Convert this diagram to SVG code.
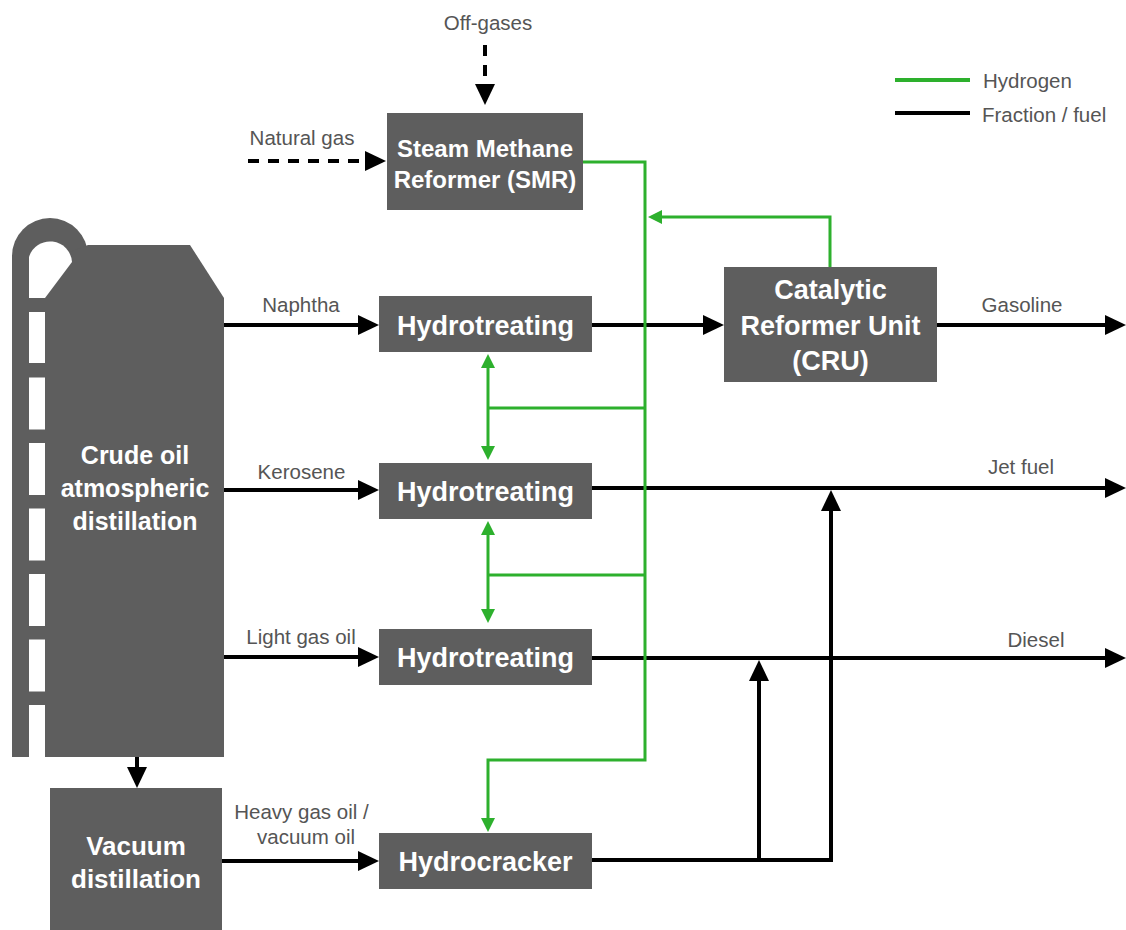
<svg xmlns="http://www.w3.org/2000/svg" width="1126" height="930" viewBox="0 0 1126 930">
<style>
.box{fill:#5e5e5e}
.bt{font-family:"Liberation Sans",Arial,Helvetica,sans-serif;font-weight:bold;fill:#fff;text-anchor:middle}
.lb{font-family:"Liberation Sans",Arial,Helvetica,sans-serif;font-size:20.5px;fill:#555;text-anchor:middle}
.lg{font-family:"Liberation Sans",Arial,Helvetica,sans-serif;font-size:20.5px;fill:#555}
.k{fill:none;stroke:#000;stroke-width:4}
.g{fill:none;stroke:#2db02d;stroke-width:3}
.dash{stroke-dasharray:11 9}
.ka{marker-end:url(#ak)}
.ga{marker-end:url(#ag)}
.gd{marker-start:url(#ag);marker-end:url(#ag)}
</style>
<defs>
<marker id="ak" markerUnits="userSpaceOnUse" markerWidth="21" markerHeight="20" refX="11" refY="10" orient="auto-start-reverse" viewBox="0 0 21 20"><path d="M0,0 L21,10 L0,20 Z" fill="#000"/></marker>
<marker id="ag" markerUnits="userSpaceOnUse" markerWidth="14" markerHeight="14" refX="7" refY="7" orient="auto-start-reverse" viewBox="0 0 14 14"><path d="M0,0 L14,7 L0,14 Z" fill="#2db02d"/></marker>
</defs>
<rect width="1126" height="930" fill="#fff"/>

<g id="crude-column">
<circle cx="50" cy="256" r="38" class="box"/>
<rect x="12" y="256" width="34" height="501" class="box"/>
<polygon points="45,757 45,290 70,252 88,245 190,245 224,298 224,757" class="box"/>
<path d="M29,298 V257 A22,22 0 0 1 72,262 L45,298 Z" fill="#fff"/>
<g fill="#fff">
<rect x="29" y="312" width="16" height="51"/>
<rect x="29" y="377.5" width="16" height="52"/>
<rect x="29" y="443" width="16" height="52"/>
<rect x="29" y="508.5" width="16" height="52"/>
<rect x="29" y="574" width="16" height="52"/>
<rect x="29" y="639.5" width="16" height="52"/>
<rect x="29" y="705" width="16" height="52"/>
</g>
<text class="bt" font-size="25" x="135" y="464">Crude oil</text>
<text class="bt" font-size="25" x="135" y="497">atmospheric</text>
<text class="bt" font-size="25" x="135" y="530">distillation</text>
</g>

<g id="vacuum">
<rect x="50" y="788" width="172" height="150" class="box"/>
<text class="bt" font-size="26" x="136" y="855">Vacuum</text>
<text class="bt" font-size="26" x="136" y="888">distillation</text>
</g>

<g id="smr">
<rect x="387" y="113" width="196" height="97" class="box"/>
<text class="bt" font-size="24" x="485" y="157">Steam Methane</text>
<text class="bt" font-size="24" x="485" y="188">Reformer (SMR)</text>
</g>

<g id="ht1">
<rect x="379" y="296" width="213" height="56" class="box"/>
<text class="bt" font-size="27" x="485.5" y="335">Hydrotreating</text>
</g>
<g id="ht2">
<rect x="379" y="463" width="213" height="56" class="box"/>
<text class="bt" font-size="27" x="485.5" y="501">Hydrotreating</text>
</g>
<g id="ht3">
<rect x="379" y="629" width="213" height="56" class="box"/>
<text class="bt" font-size="27" x="485.5" y="667">Hydrotreating</text>
</g>
<g id="hydrocracker">
<rect x="379" y="833" width="213" height="56" class="box"/>
<text class="bt" font-size="27" x="485.5" y="871">Hydrocracker</text>
</g>

<g id="cru">
<rect x="724" y="267" width="213" height="115" class="box"/>
<text class="bt" font-size="27" x="830.5" y="299">Catalytic</text>
<text class="bt" font-size="27" x="830.5" y="335">Reformer Unit</text>
<text class="bt" font-size="27" x="830.5" y="370">(CRU)</text>
</g>

<g id="connectors">
<path class="k ka" d="M224,325 H369"/>
<path class="k ka" d="M224,490 H369"/>
<path class="k ka" d="M224,657 H369"/>
<path class="k ka" d="M222,861 H369"/>
<path class="k ka" d="M592,325 H714"/>
<path class="k ka" d="M937,325 H1116"/>
<path class="k ka" d="M592,488 H1116"/>
<path class="k ka" d="M592,658 H1116"/>
<path class="k ka" d="M592,860 H831 V500"/>
<path class="k ka" d="M759,860 V670"/>
<path class="k ka" d="M137,757 V778"/>
<path class="k dash ka" d="M248,161 H376"/>
<path class="k dash ka" d="M485,45 V95"/>

<path class="g ga" d="M583,162 H645 V760 H488 V825"/>
<path class="g ga" d="M830,267 V217 H655"/>
<path class="g" d="M645,408 H488"/>
<path class="g gd" d="M488,361 V453"/>
<path class="g" d="M645,575 H488"/>
<path class="g gd" d="M488,528 V616"/>
</g>

<g id="labels">
<text class="lb" x="488" y="30">Off-gases</text>
<text class="lb" x="302" y="145">Natural gas</text>
<text class="lb" x="301" y="312">Naphtha</text>
<text class="lb" x="301.5" y="479">Kerosene</text>
<text class="lb" x="301" y="644">Light gas oil</text>
<text class="lb" x="301.5" y="819">Heavy gas oil /</text>
<text class="lb" x="306" y="844">vacuum oil</text>
<text class="lb" x="1022" y="312">Gasoline</text>
<text class="lb" x="1021" y="474">Jet fuel</text>
<text class="lb" x="1036" y="647">Diesel</text>
</g>

<g id="legend">
<path d="M895,80 H970" stroke="#2db02d" stroke-width="4"/>
<path d="M895,113 H970" stroke="#000" stroke-width="4"/>
<text class="lg" x="983" y="88">Hydrogen</text>
<text class="lg" x="982" y="122">Fraction / fuel</text>
</g>
</svg>
